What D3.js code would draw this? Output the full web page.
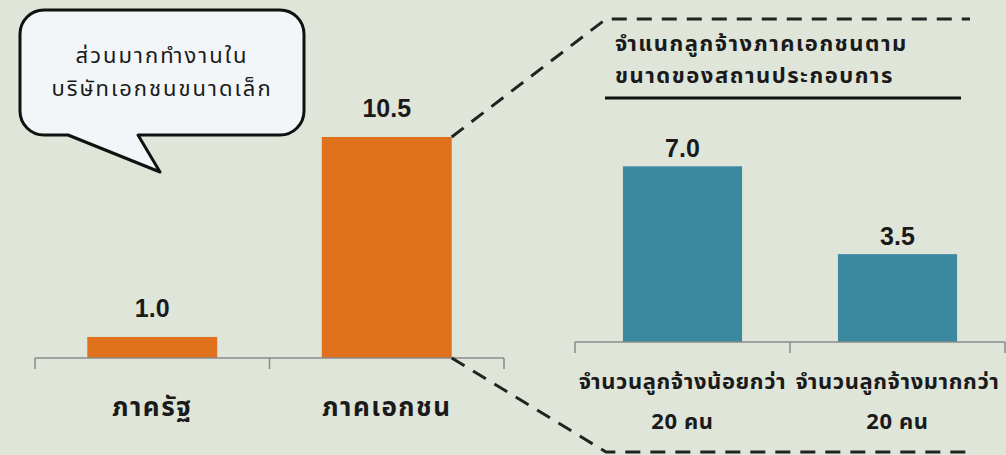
<!DOCTYPE html>
<html>
<head>
<meta charset="utf-8">
<script src="https://cdn.jsdelivr.net/npm/d3@7"></script>
<style>
  html, body { margin: 0; padding: 0; background: #dfe5d9; }
  svg { display: block; }
  text { font-family: "Noto Sans Thai", "Noto Sans", "DejaVu Sans", sans-serif; fill: #1a1a1a; }
  .num { font-family: "Liberation Sans", Arial, sans-serif; font-weight: bold; letter-spacing: 0; }
</style>
</head>
<body>
<svg id="chart"></svg>
<script>
// main comparison
const sectors = ['ภาครัฐ', 'ภาคเอกชน'];
const sectorValues = [1.0, 10.5];

// private sector by establishment size
const sizeGroups = [['จำนวนลูกจ้างน้อยกว่า', '20 คน'], ['จำนวนลูกจ้างมากกว่า', '20 คน']];
const sizeValues = [7.0, 3.5];

const calloutLines = ['ส่วนมากทำงานใน', 'บริษัทเอกชนขนาดเล็ก'];
const titleLines = ['จำแนกลูกจ้างภาคเอกชนตาม', 'ขนาดของสถานประกอบการ'];

const width = 1006, height = 455;
const svg = d3.select('#chart')
  .attr('width', width)
  .attr('height', height);

svg.append('rect')
  .attr('width', width)
  .attr('height', height)
  .attr('fill', '#dfe5d9');

function drawBars(names, values, color, x0, x1, baseY, pxPerUnit, valGap, labelY, labelSize, spacing) {
  const x = d3.scaleBand()
    .domain(d3.range(names.length))
    .range([x0, x1])
    .paddingInner(0.446)
    .paddingOuter(0.223);
  const y = d3.scaleLinear()
    .domain([0, 1])
    .range([baseY, baseY - pxPerUnit]);
  const g = svg.append('g');
  const pad = x.step() * x.paddingInner() / 2;

  g.selectAll('rect.bar')
    .data(values)
    .enter()
    .append('rect')
    .attr('class', 'bar')
    .attr('x', (d, i) => x(i))
    .attr('y', d => y(d))
    .attr('width', x.bandwidth())
    .attr('height', d => y(0) - y(d))
    .attr('fill', color);

  g.selectAll('text.val')
    .data(values)
    .enter()
    .append('text')
    .attr('class', 'num')
    .attr('x', (d, i) => x(i) + x.bandwidth() / 2)
    .attr('y', d => y(d) - valGap)
    .attr('text-anchor', 'middle')
    .style('font-size', '25px')
    .text(d => d.toFixed(1));

  // baseline with band-boundary ticks
  const ticks = d3.range(names.length + 1).map(i => i < names.length ? x(i) - pad : x(i - 1) + x.bandwidth() + pad);
  g.append('line')
    .attr('x1', ticks[0]).attr('x2', ticks[ticks.length - 1])
    .attr('y1', y(0)).attr('y2', y(0))
    .attr('stroke', '#8a8a8a').attr('stroke-width', 1.5);
  g.selectAll('line.tick')
    .data(ticks)
    .enter()
    .append('line')
    .attr('x1', d => d).attr('x2', d => d)
    .attr('y1', y(0)).attr('y2', y(0) + 11)
    .attr('stroke', '#8a8a8a').attr('stroke-width', 1.5);

  names.forEach((n, i) => {
    const lines = Array.isArray(n) ? n : [n];
    const t = g.append('text')
      .attr('x', x(i) + x.bandwidth() / 2)
      .attr('y', labelY)
      .attr('text-anchor', 'middle')
      .style('font-size', labelSize + 'px')
      .style('letter-spacing', spacing + 'px')
      .style('font-weight', 'bold');
    lines.forEach((l, j) => {
      t.append('tspan')
        .attr('x', x(i) + x.bandwidth() / 2)
        .attr('dy', j === 0 ? 0 : 40)
        .text(l);
    });
  });
  return { x, y };
}

const left = drawBars(sectors, sectorValues, '#df711c', 35, 504, 358, 21.05, 20, 416, 26, 1.5);
const right = drawBars(sizeGroups, sizeValues, '#3b88a1', 575, 1005, 342, 25.1, 9, 389, 22, 0.6);

// zoom connector lines from the private-sector bar
const xr = left.x(1) + left.x.bandwidth();
const dash = svg.append('g')
  .attr('fill', 'none')
  .attr('stroke', '#222')
  .attr('stroke-width', 3)
  .attr('stroke-dasharray', '15,10');
dash.append('path')
  .attr('d', d3.line()([[xr, left.y(sectorValues[1])], [606, 19], [970, 19]]));
dash.append('path')
  .attr('d', d3.line()([[xr, left.y(0)], [606, 452], [970, 452]]));

// callout bubble
const bubble = d3.path();
const bx0 = 20, bx1 = 304, by0 = 10, by1 = 135, r = 24;
bubble.moveTo(bx0 + r, by0);
bubble.lineTo(bx1 - r, by0);
bubble.arcTo(bx1, by0, bx1, by0 + r, r);
bubble.lineTo(bx1, by1 - r);
bubble.arcTo(bx1, by1, bx1 - r, by1, r);
bubble.lineTo(138, by1);
bubble.lineTo(160, 172);
bubble.lineTo(68, by1);
bubble.lineTo(bx0 + r, by1);
bubble.arcTo(bx0, by1, bx0, by1 - r, r);
bubble.lineTo(bx0, by0 + r);
bubble.arcTo(bx0, by0, bx0 + r, by0, r);
bubble.closePath();
svg.append('path')
  .attr('d', bubble.toString())
  .attr('fill', '#f3f6f8')
  .attr('stroke', '#111')
  .attr('stroke-width', 3)
  .attr('stroke-linejoin', 'round');

svg.append('g').selectAll('text')
  .data(calloutLines)
  .enter()
  .append('text')
  .attr('x', 162)
  .attr('y', (d, i) => 63 + i * 33)
  .attr('text-anchor', 'middle')
  .style('font-size', '22px')
  .style('letter-spacing', '2px')
  .text(d => d);

// right panel title
svg.append('g').selectAll('text')
  .data(titleLines)
  .enter()
  .append('text')
  .attr('x', 615)
  .attr('y', (d, i) => 51 + i * 32)
  .style('font-size', '22px')
  .style('letter-spacing', '1.5px')
  .style('font-weight', 'bold')
  .text(d => d);
svg.append('line')
  .attr('x1', 605).attr('x2', 961)
  .attr('y1', 98).attr('y2', 98)
  .attr('stroke', '#111').attr('stroke-width', 3);
</script>
</body>
</html>
